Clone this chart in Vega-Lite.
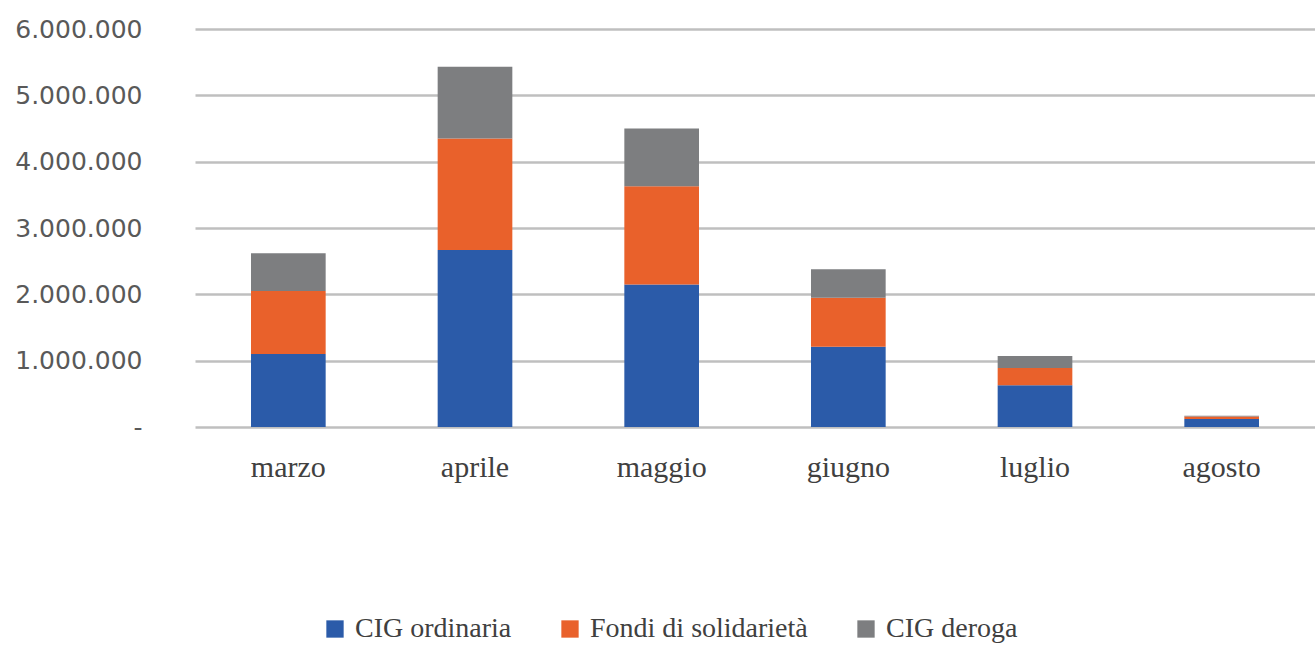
{
  "$schema": "https://vega.github.io/schema/vega-lite/v6.json",
  "width": 1120,
  "height": 398,
  "autosize": {"type": "none"},
  "padding": {"left": 195, "top": 29, "right": 0, "bottom": 220},
  "background": "white",
  "data": {
    "values": [
      {"mese": "marzo", "serie": "CIG ordinaria", "ordine": 1, "valore": 1100000},
      {"mese": "marzo", "serie": "Fondi di solidarietà", "ordine": 2, "valore": 950000},
      {"mese": "marzo", "serie": "CIG deroga", "ordine": 3, "valore": 570000},
      {"mese": "aprile", "serie": "CIG ordinaria", "ordine": 1, "valore": 2670000},
      {"mese": "aprile", "serie": "Fondi di solidarietà", "ordine": 2, "valore": 1680000},
      {"mese": "aprile", "serie": "CIG deroga", "ordine": 3, "valore": 1080000},
      {"mese": "maggio", "serie": "CIG ordinaria", "ordine": 1, "valore": 2150000},
      {"mese": "maggio", "serie": "Fondi di solidarietà", "ordine": 2, "valore": 1480000},
      {"mese": "maggio", "serie": "CIG deroga", "ordine": 3, "valore": 870000},
      {"mese": "giugno", "serie": "CIG ordinaria", "ordine": 1, "valore": 1210000},
      {"mese": "giugno", "serie": "Fondi di solidarietà", "ordine": 2, "valore": 740000},
      {"mese": "giugno", "serie": "CIG deroga", "ordine": 3, "valore": 430000},
      {"mese": "luglio", "serie": "CIG ordinaria", "ordine": 1, "valore": 630000},
      {"mese": "luglio", "serie": "Fondi di solidarietà", "ordine": 2, "valore": 260000},
      {"mese": "luglio", "serie": "CIG deroga", "ordine": 3, "valore": 180000},
      {"mese": "agosto", "serie": "CIG ordinaria", "ordine": 1, "valore": 120000},
      {"mese": "agosto", "serie": "Fondi di solidarietà", "ordine": 2, "valore": 40000},
      {"mese": "agosto", "serie": "CIG deroga", "ordine": 3, "valore": 10000}
    ]
  },
  "mark": {"type": "bar"},
  "encoding": {
    "x": {
      "field": "mese",
      "type": "nominal",
      "sort": ["marzo", "aprile", "maggio", "giugno", "luglio", "agosto"],
      "scale": {"paddingInner": 0.6, "paddingOuter": 0.3},
      "axis": {
        "title": null,
        "labelAngle": 0,
        "labelFont": "Liberation Serif",
        "labelFontSize": 30,
        "labelColor": "#404040",
        "labelPadding": 25,
        "ticks": false,
        "domain": false,
        "grid": false
      }
    },
    "y": {
      "field": "valore",
      "type": "quantitative",
      "aggregate": "sum",
      "stack": "zero",
      "scale": {"domain": [0, 6000000], "nice": false},
      "axis": {
        "title": null,
        "values": [0, 1000000, 2000000, 3000000, 4000000, 5000000, 6000000],
        "labelExpr": "datum.value == 0 ? '-' : replace(format(datum.value, ','), /,/g, '.')",
        "labelFont": "DejaVu Sans",
        "labelFontSize": 25,
        "labelColor": "#595959",
        "labelPadding": 53,
        "ticks": false,
        "domain": false,
        "grid": true,
        "gridColor": "#BFBFBF",
        "gridWidth": 2.5
      }
    },
    "color": {
      "field": "serie",
      "type": "nominal",
      "scale": {
        "domain": ["CIG ordinaria", "Fondi di solidarietà", "CIG deroga"],
        "range": ["#2B5BA9", "#E9612B", "#7D7E80"]
      },
      "legend": {
        "title": null,
        "orient": "none",
        "direction": "horizontal",
        "legendX": 126,
        "legendY": 586,
        "symbolType": "square",
        "symbolSize": 300,
        "symbolStrokeWidth": 0,
        "labelFont": "Liberation Serif",
        "labelFontSize": 28,
        "labelLimit": 500,
        "labelColor": "#404040",
        "labelOffset": 6,
        "columnPadding": 44
      }
    },
    "order": {"field": "ordine", "type": "quantitative"}
  },
  "config": {
    "font": "Liberation Serif",
    "view": {"stroke": null},
    "legend": {"labelFont": "Liberation Serif", "labelFontSize": 28, "labelLimit": 500, "labelBaseline": "middle"}
  }
}
